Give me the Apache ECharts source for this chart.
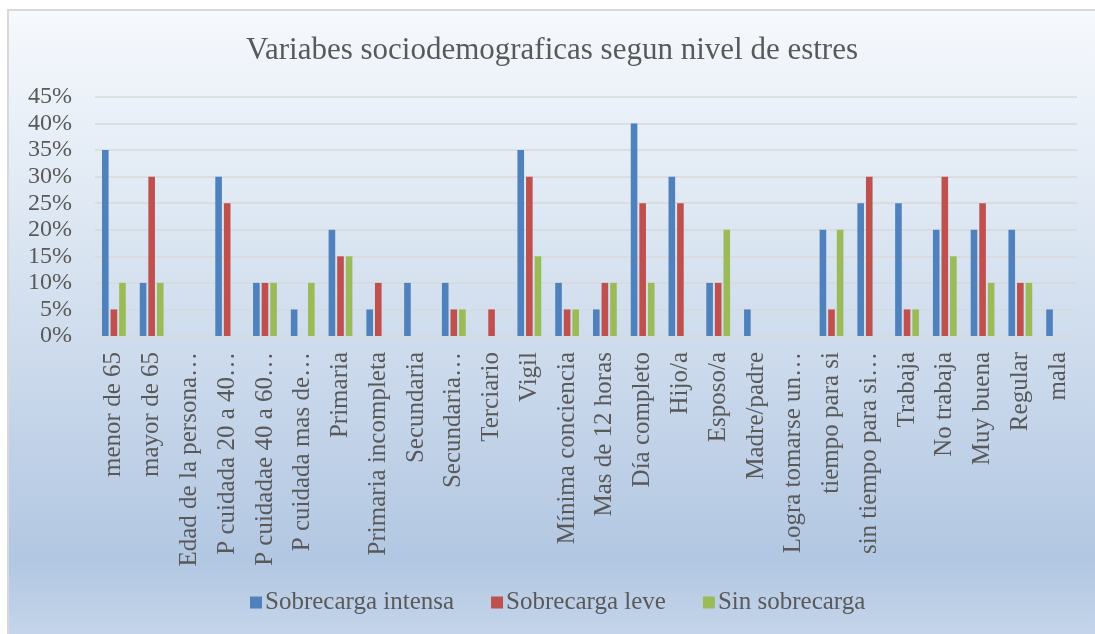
<!DOCTYPE html>
<html>
<head>
<meta charset="utf-8">
<script src="https://cdn.jsdelivr.net/npm/echarts@6/dist/echarts.min.js"></script>
<style>
  html, body { margin: 0; padding: 0; background: #fff; }
  #wrap { position: absolute; left: 7px; top: 9px; width: 1088px; height: 625px;
          border-left: 2px solid #d9d9d9; border-top: 2px solid #d9d9d9; box-sizing: border-box; }
  #container { width: 100%; height: 100%; }
</style>
</head>
<body>
<div id="wrap"><div id="container"></div></div>
<script>
var categories = ['menor de 65', 'mayor de 65', 'Edad de la persona…', 'P cuidada 20 a 40…',
    'P cuidadae 40 a 60…', 'P cuidada mas de…', 'Primaria', 'Primaria incompleta', 'Secundaria',
    'Secundaria…', 'Terciario', 'Vigil', 'Mínima conciencia', 'Mas de 12 horas', 'Día completo',
    'Hijo/a', 'Esposo/a', 'Madre/padre', 'Logra tomarse un…', 'tiempo para si',
    'sin tiempo para si…', 'Trabaja', 'No trabaja', 'Muy buena', 'Regular', 'mala'];
var intensa = [35, 10, 0, 30, 10, 5, 20, 5, 10, 10, 0, 35, 10, 5, 40, 30, 10, 5, 0, 20, 25, 25, 20, 20, 20, 5];
var leve    = [5, 30, 0, 25, 10, 0, 15, 10, 0, 5, 5, 30, 5, 10, 25, 25, 10, 0, 0, 5, 30, 5, 30, 25, 10, 0];
var sin     = [10, 10, 0, 0, 10, 10, 15, 0, 0, 5, 0, 15, 5, 10, 10, 0, 20, 0, 0, 20, 0, 5, 15, 10, 10, 0];
var seriesNames = ['Sobrecarga intensa', 'Sobrecarga leve', 'Sin sobrecarga'];

var font = '"Liberation Serif", "DejaVu Serif", serif';
var txt = '#595959';

var dom = document.getElementById('container');
var myChart = echarts.init(dom, null, { renderer: 'canvas' });

function bar(name, data, color) {
    return {
        name: name,
        type: 'bar',
        data: data,
        barGap: '30%',
        barCategoryGap: '37%',
        itemStyle: { color: color },
        emphasis: { disabled: true }
    };
}

var option = {
    backgroundColor: new echarts.graphic.LinearGradient(0, 0, 0, 1, [
        { offset: 0, color: '#f6f9fd' },
        { offset: 0.3, color: '#e0e9f4' },
        { offset: 0.6, color: '#c9d8eb' },
        { offset: 0.88, color: '#b2c7e2' },
        { offset: 1, color: '#c4d5ea' }
    ]),
    animation: false,
    title: {
        text: 'Variabes sociodemograficas segun nivel de estres',
        left: 'center',
        top: 19,
        textStyle: { fontFamily: font, fontSize: 31, fontWeight: 'normal', color: txt }
    },
    legend: {
        data: seriesNames,
        left: 236,
        top: 574,
        itemWidth: 12,
        itemHeight: 12,
        itemGap: 37,
        icon: 'rect',
        textStyle: { fontFamily: font, fontSize: 25, color: txt, padding: [0, 0, 0, -2] }
    },
    grid: { left: 86, right: 18, top: 86, bottom: 298, containLabel: false },
    xAxis: {
        type: 'category',
        data: categories,
        axisLine: { lineStyle: { color: '#d9d9d9', width: 1.5 } },
        axisTick: { show: false },
        axisLabel: {
            rotate: 90,
            interval: 0,
            margin: 16,
            fontFamily: font,
            fontSize: 25,
            color: txt
        }
    },
    yAxis: {
        type: 'value',
        min: 0,
        max: 45,
        interval: 5,
        axisLine: { show: false },
        axisTick: { show: false },
        splitLine: { lineStyle: { color: '#d9d9d9', width: 1.5 } },
        axisLabel: {
            formatter: '{value}%',
            margin: 23,
            fontFamily: font,
            fontSize: 24,
            color: txt
        }
    },
    series: [
        bar(seriesNames[0], intensa, '#4f81bd'),
        bar(seriesNames[1], leve, '#c0504d'),
        bar(seriesNames[2], sin, '#9bbb59')
    ]
};

myChart.setOption(option);
window.addEventListener('resize', myChart.resize);
</script>
</body>
</html>
